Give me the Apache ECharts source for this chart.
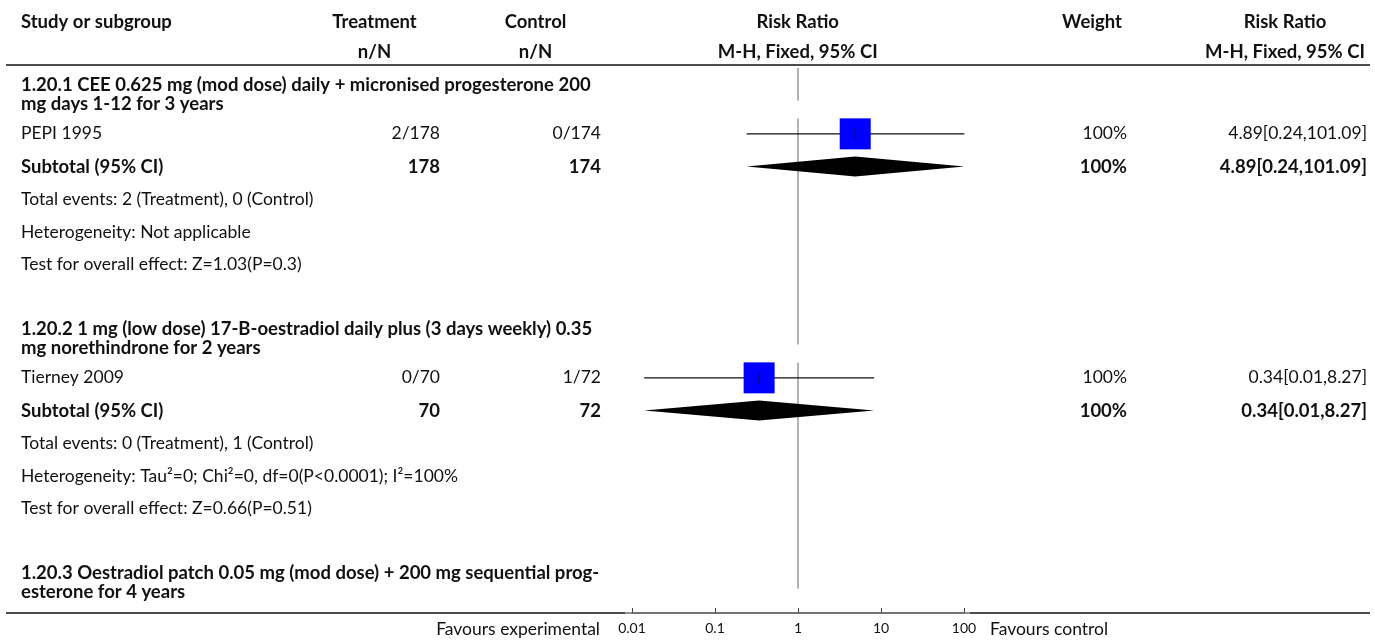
<!DOCTYPE html>
<html>
<head>
<meta charset="utf-8">
<script src="https://cdn.jsdelivr.net/npm/echarts@6/dist/echarts.min.js"></script>
<style>
  html, body { margin: 0; padding: 0; background: #fff; }
  #chart { width: 1375px; height: 641px; }
</style>
</head>
<body>
<div id="chart"></div>
<script>
// ---- Forest plot data ----
const headerTop = ['Study or subgroup', 'Treatment', 'Control', 'Risk Ratio', 'Weight', 'Risk Ratio'];
const headerSub = ['', 'n/N', 'n/N', 'M-H, Fixed, 95% CI', '', 'M-H, Fixed, 95% CI'];
const subgroupTitles = [
  '1.20.1 CEE 0.625 mg (mod dose) daily + micronised progesterone 200\nmg days 1-12 for 3 years',
  '1.20.2 1 mg (low dose) 17-B-oestradiol daily plus (3 days weekly) 0.35\nmg norethindrone for 2 years',
  '1.20.3 Oestradiol patch 0.05 mg (mod dose) + 200 mg sequential prog-\nesterone for 4 years'
];
const studyNames = ['PEPI 1995', 'Tierney 2009'];
const treatEvents = [2, 0];
const treatTotals = [178, 70];
const ctrlEvents = [0, 1];
const ctrlTotals = [174, 72];
const rrPoint = [4.89, 0.34];
const rrLower = [0.24, 0.014];
const rrUpper = [101.09, 8.27];
const studyWeights = [100, 100];
const subtotalPoint = [4.89, 0.34];
const subtotalLower = [0.24, 0.014];
const subtotalUpper = [101.09, 8.27];
const heterogeneity = ['Not applicable', 'Tau\u00b2=0; Chi\u00b2=0, df=0(P<0.0001); I\u00b2=100%'];
const overallEffect = ['Z=1.03(P=0.3)', 'Z=0.66(P=0.51)'];
const axisTicks = [0.01, 0.1, 1, 10, 100];
const favourLabels = ['Favours experimental', 'Favours control'];

// ---- Layout ----
const FONT = 'Lato, "Noto Sans", sans-serif';
const FS = 17.5;      // regular text
const FS_B = 18.5;    // bold text
const TEXT = '#111';
const COL = {
  study: 21,
  treatC: 374.5, treatR: 440,
  ctrlC: 535.5, ctrlR: 601,
  plotC: 797.7,
  weightC: 1092, weightR: 1127,
  rrC: 1285, rrR: 1367
};
const ROW_H = { heading: 46.5, study: 32.7, subtotal: 32.7, note: 32.7, blank: 34 };
const BODY_TOP = 71;
const AXIS_Y = 613;

const fmt = v => v.toFixed(2);
const ciText = (p, l, u) => `${fmt(p)}[${fmt(l)},${fmt(u)}]`;

// rows of the table, top to bottom
const rows = [];
subgroupTitles.forEach((title, g) => {
  rows.push({ kind: 'heading', title });
  if (g < studyNames.length) {
    rows.push({ kind: 'study', i: g });
    rows.push({ kind: 'subtotal', i: g });
    rows.push({ kind: 'note', text: `Total events: ${treatEvents[g]} (Treatment), ${ctrlEvents[g]} (Control)` });
    rows.push({ kind: 'note', text: 'Heterogeneity: ' + heterogeneity[g] });
    rows.push({ kind: 'note', text: 'Test for overall effect: ' + overallEffect[g] });
    rows.push({ kind: 'blank' });
  }
});
let cursor = BODY_TOP;
rows.forEach(r => {
  r.top = cursor;
  r.h = ROW_H[r.kind];
  r.y = cursor + r.h / 2;
  cursor += r.h;
});

// text cells (x in page px, y in row units of the value axis)
const cells = [];
const cell = (x, y, text, align, bold) =>
  cells.push({ x, y, text: String(text), align, bold: !!bold });

const HY1 = 22, HY2 = 52;
cell(COL.study, HY1, headerTop[0], 'left', true);
cell(COL.treatC, HY1, headerTop[1], 'center', true);
cell(COL.ctrlC, HY1, headerTop[2], 'center', true);
cell(COL.plotC, HY1, headerTop[3], 'center', true);
cell(COL.weightC, HY1, headerTop[4], 'center', true);
cell(COL.rrC, HY1, headerTop[5], 'center', true);
cell(COL.treatC, HY2, headerSub[1], 'center', true);
cell(COL.ctrlC, HY2, headerSub[2], 'center', true);
cell(COL.plotC, HY2, headerSub[3], 'center', true);
cell(COL.rrC, HY2, headerSub[5], 'center', true);

rows.forEach(r => {
  if (r.kind === 'heading') {
    cell(COL.study, r.y, r.title, 'left', true);
  } else if (r.kind === 'study') {
    const i = r.i;
    cell(COL.study, r.y, studyNames[i], 'left');
    cell(COL.treatR, r.y, `${treatEvents[i]}/${treatTotals[i]}`, 'right');
    cell(COL.ctrlR, r.y, `${ctrlEvents[i]}/${ctrlTotals[i]}`, 'right');
    cell(COL.weightR, r.y, studyWeights[i] + '%', 'right');
    cell(COL.rrR, r.y, ciText(rrPoint[i], rrLower[i], rrUpper[i]), 'right');
  } else if (r.kind === 'subtotal') {
    const i = r.i;
    cell(COL.study, r.y, 'Subtotal (95% CI)', 'left', true);
    cell(COL.treatR, r.y, treatTotals[i], 'right', true);
    cell(COL.ctrlR, r.y, ctrlTotals[i], 'right', true);
    cell(COL.weightR, r.y, studyWeights[i] + '%', 'right', true);
    cell(COL.rrR, r.y, ciText(subtotalPoint[i], subtotalLower[i], subtotalUpper[i]), 'right', true);
  } else if (r.kind === 'note') {
    cell(COL.study, r.y, r.text, 'left');
  }
});

// study estimates and subtotal diamonds
const studyRows = rows.filter(r => r.kind === 'study');
const subtotalRows = rows.filter(r => r.kind === 'subtotal');
const studyData = studyRows.map(r => [rrPoint[r.i], r.y, rrLower[r.i], rrUpper[r.i], studyWeights[r.i]]);
const diamondData = subtotalRows.map(r => [subtotalPoint[r.i], r.y, subtotalLower[r.i], subtotalUpper[r.i]]);

// line of no effect, interrupted under the second line of each subgroup heading
const headingRows = rows.filter(r => r.kind === 'heading');
const noEffectSegs = [];
let segStart = headingRows[0].top - 3;
headingRows.forEach(h => {
  noEffectSegs.push([segStart, h.top + h.h - 17]);
  segStart = h.top + h.h + 1;
});

const chart = echarts.init(document.getElementById('chart'), null, { renderer: 'canvas' });

chart.setOption({
  animation: false,
  backgroundColor: '#fff',
  grid: { left: 632, width: 332, top: 0, height: AXIS_Y, containLabel: false },
  xAxis: {
    type: 'log', logBase: 10, min: axisTicks[0], max: axisTicks[axisTicks.length - 1],
    position: 'bottom',
    axisLine: { show: true, onZero: false, lineStyle: { color: '#6b6b6b', width: 1.5 } },
    axisTick: { show: true, inside: true, length: 5, lineStyle: { color: '#444', width: 1 } },
    axisLabel: {
      color: TEXT, fontFamily: FONT, fontSize: 14, margin: 8,
      formatter: v => {
        let best = axisTicks[0];
        axisTicks.forEach(t => {
          if (Math.abs(Math.log10(t) - Math.log10(v)) < Math.abs(Math.log10(best) - Math.log10(v))) best = t;
        });
        return String(best);
      }
    },
    splitLine: { show: false }
  },
  yAxis: { type: 'value', min: 0, max: AXIS_Y, inverse: true, show: false },
  graphic: [
    { type: 'line', shape: { x1: 6, y1: 65, x2: 1370, y2: 65 }, style: { stroke: '#111', lineWidth: 1.5 } },
    { type: 'line', shape: { x1: 6, y1: AXIS_Y, x2: 625, y2: AXIS_Y }, style: { stroke: '#111', lineWidth: 1.5 } },
    { type: 'line', shape: { x1: 970, y1: AXIS_Y, x2: 1370, y2: AXIS_Y }, style: { stroke: '#111', lineWidth: 1.5 } },
    { type: 'line', shape: { x1: 625, y1: AXIS_Y, x2: 970, y2: AXIS_Y }, style: { stroke: '#6b6b6b', lineWidth: 1.5 } },
    { type: 'text', right: 1375 - 600, top: 620, style: { text: favourLabels[0], fontFamily: FONT, fontSize: FS, fill: TEXT } },
    { type: 'text', left: 990, top: 620, style: { text: favourLabels[1], fontFamily: FONT, fontSize: FS, fill: TEXT } }
  ],
  series: [
    {
      // line of no effect at RR = 1
      type: 'custom', clip: false, silent: true,
      data: noEffectSegs,
      encode: { y: [0, 1] },
      renderItem: (params, api) => {
        const a = api.coord([1, api.value(0)]);
        const b = api.coord([1, api.value(1)]);
        return { type: 'line', shape: { x1: a[0], y1: a[1], x2: b[0], y2: b[1] }, style: { stroke: '#9a9a9a', lineWidth: 1.5 } };
      }
    },
    {
      // study confidence intervals and weighted squares
      type: 'custom', clip: false, silent: true,
      data: studyData,
      encode: { x: [0, 2, 3], y: 1 },
      renderItem: (params, api) => {
        const p = api.coord([api.value(0), api.value(1)]);
        const lo = api.coord([api.value(2), api.value(1)]);
        const hi = api.coord([api.value(3), api.value(1)]);
        const side = 31 * Math.sqrt(api.value(4) / 100);
        return {
          type: 'group',
          children: [
            { type: 'line', shape: { x1: lo[0], y1: lo[1], x2: hi[0], y2: hi[1] }, style: { stroke: '#111', lineWidth: 1.4 } },
            { type: 'rect', shape: { x: p[0] - side / 2, y: p[1] - side / 2, width: side, height: side }, style: { fill: '#0000ff' } },
            { type: 'line', shape: { x1: p[0], y1: p[1] - 5, x2: p[0], y2: p[1] + 5 }, style: { stroke: '#111', lineWidth: 1 } }
          ]
        };
      }
    },
    {
      // pooled subtotal diamonds
      type: 'custom', clip: false, silent: true,
      data: diamondData,
      encode: { x: [0, 2, 3], y: 1 },
      renderItem: (params, api) => {
        const p = api.coord([api.value(0), api.value(1)]);
        const lo = api.coord([api.value(2), api.value(1)]);
        const hi = api.coord([api.value(3), api.value(1)]);
        const hh = 10;
        return {
          type: 'polygon',
          shape: { points: [[lo[0], p[1]], [p[0], p[1] - hh], [hi[0], p[1]], [p[0], p[1] + hh]] },
          style: { fill: '#000' }
        };
      }
    },
    {
      // table text
      type: 'custom', clip: false, silent: true,
      data: cells.map(c => [1, c.y]),
      encode: { y: 1 },
      renderItem: (params, api) => {
        const c = cells[params.dataIndex];
        const y = api.coord([1, c.y])[1];
        return {
          type: 'text',
          x: c.x, y: y,
          style: {
            text: c.text, fill: TEXT, fontFamily: FONT,
            fontSize: c.bold ? FS_B : FS,
            fontWeight: c.bold ? 'bold' : 'normal',
            align: c.align, verticalAlign: 'middle', lineHeight: 19
          }
        };
      }
    }
  ]
});
</script>
</body>
</html>
